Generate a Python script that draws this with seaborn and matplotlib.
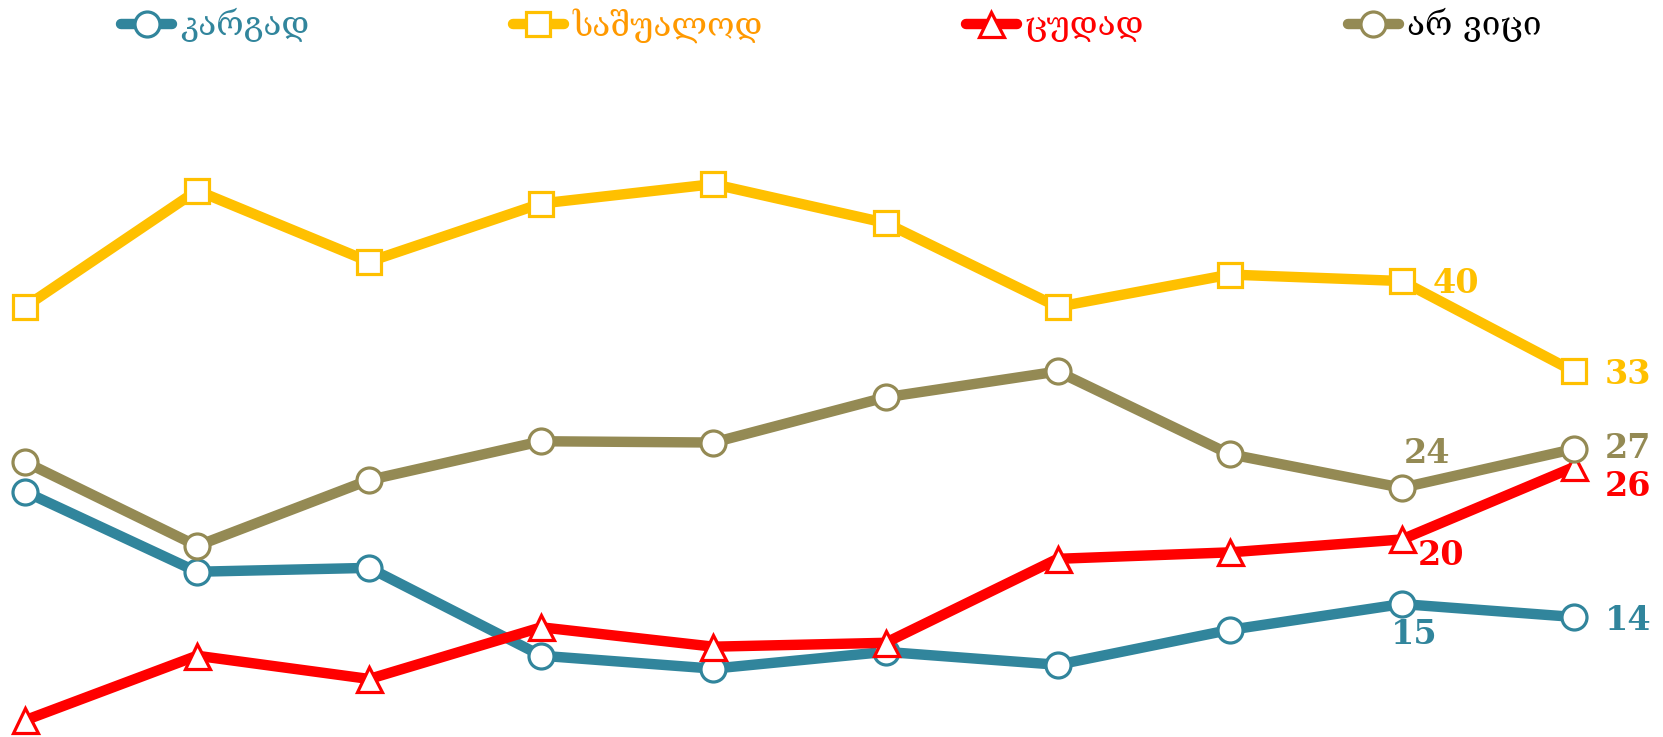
import seaborn as sns
import pandas as pd
import matplotlib.pyplot as plt

# survey waves (no axis labels shown in the original)
waves = list(range(10))

series_names = ["კარგად", "საშუალოდ", "ცუდად", "არ ვიცი"]
good = [23.7, 17.5, 17.8, 11, 10, 11.3, 10.3, 13, 15, 14]
average = [38, 47, 41.5, 46, 47.5, 44.5, 38, 40.5, 40, 33]
bad = [6, 11, 9.2, 13.2, 11.7, 12, 18.5, 19, 20, 25.6]
dont_know = [26, 19.5, 24.6, 27.6, 27.5, 31, 33, 26.6, 24, 27]

line_colors = ["#31859C", "#FFC000", "#FF0000", "#948A54"]
text_colors = ["#31859C", "#FF9900", "#FF0000", "#000000"]
markers = ["o", "s", "^", "o"]
msizes = [18, 17, 18, 18]

values = [good, average, bad, dont_know]

sns.set_style("white")
plt.rcParams['font.family'] = ['DejaVu Serif', 'DejaVu Sans']

fig = plt.figure(figsize=(16.63, 7.37), dpi=100)
ax = fig.add_axes([0, 0, 1, 1])

for name, vals, col, mk, ms in zip(series_names, values, line_colors, markers, msizes):
    df = pd.DataFrame({"wave": waves, "value": vals})
    sns.lineplot(data=df, x="wave", y="value", color=col, linewidth=7.5,
                 marker=mk, markersize=ms, markerfacecolor="white",
                 markeredgecolor=col, markeredgewidth=2.3, label=name, ax=ax)

ax.set_xlim(-0.145, 9.517)
ax.set_ylim(4.71, 61.75)
ax.axis("off")

# value labels: (series index, wave, dx px, dy px, ha)
labels = [
    (1, 8, 31, -2, "left"),
    (1, 9, 31, -3, "left"),
    (3, 8, 25, 34, "center"),
    (3, 9, 31, 0, "left"),
    (2, 9, 31, -19, "left"),
    (2, 8, 16, -16, "left"),
    (0, 8, 12, -30, "center"),
    (0, 9, 31, -4, "left"),
]
for si, wi, dx, dy, ha in labels:
    v = values[si][wi]
    ax.annotate(f"{round(v)}", (waves[wi], v), xytext=(dx * 0.72, dy * 0.72),
                textcoords="offset points", ha=ha, va="center",
                fontsize=24, fontweight="bold", color=line_colors[si])

leg = ax.legend(loc="upper left", bbox_to_anchor=(0.071, 0.994), ncol=4,
                frameon=False, fontsize=24, handlelength=1.53,
                handletextpad=0.24, columnspacing=6.1, borderpad=0.1,
                borderaxespad=0)
for txt, c in zip(leg.get_texts(), text_colors):
    txt.set_color(c)

plt.savefig("out.png", dpi=100)
